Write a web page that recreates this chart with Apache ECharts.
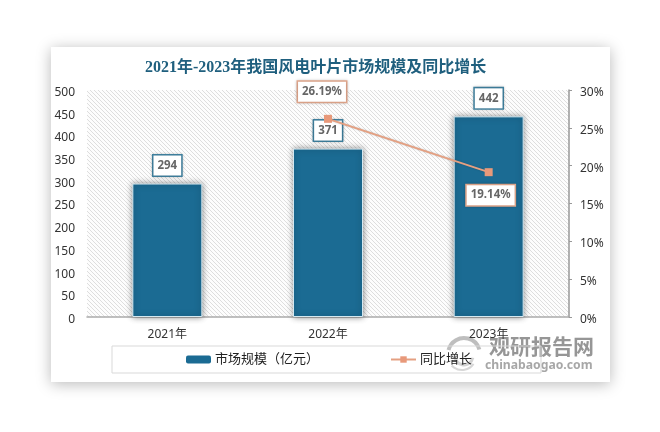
<!DOCTYPE html>
<html>
<head>
<meta charset="utf-8">
<style>html,body{margin:0;padding:0;background:#fff}#main{width:660px;height:432px}</style>
<script src="https://cdn.jsdelivr.net/npm/echarts@6/dist/echarts.min.js"></script>
</head>
<body>
<div id="main"></div>
<script>
var categories = ["2021年", "2022年", "2023年"];
var marketSize = [294, 371, 442];
var growth = [null, 26.19, 19.14];
var barName = "市场规模（亿元）";
var lineName = "同比增长";
var titleText = "2021年-2023年我国风电叶片市场规模及同比增长";

var labelFont = '"Noto Sans", "Noto Sans CJK SC", sans-serif';

// 斜线底纹
function hatch() {
  var c = document.createElement("canvas");
  c.width = 4;
  c.height = 4;
  var ctx = c.getContext("2d");
  ctx.fillStyle = "#fdfdfd";
  ctx.fillRect(0, 0, 4, 4);
  ctx.strokeStyle = "#dedede";
  ctx.lineWidth = 1;
  ctx.beginPath();
  ctx.moveTo(-1, -1);
  ctx.lineTo(5, 5);
  ctx.moveTo(-1, 3);
  ctx.lineTo(1, 5);
  ctx.moveTo(3, -1);
  ctx.lineTo(5, 1);
  ctx.stroke();
  return c;
}

var chart = echarts.init(document.getElementById("main"));
chart.setOption({
  animation: false,
  backgroundColor: "#fff",
  title: {
    text: titleText,
    left: 145,
    top: 60,
    padding: 0,
    textStyle: {
      fontFamily: '"Liberation Serif", "Noto Sans CJK SC", serif',
      fontSize: 16,
      fontWeight: "bold",
      color: "#1f5f7e"
    }
  },
  grid: {
    left: 87,
    right: 91,
    top: 90,
    bottom: 115,
    show: true,
    borderWidth: 0,
    backgroundColor: { image: hatch(), repeat: "repeat" }
  },
  legend: {
    left: 112,
    top: 346,
    padding: [7, 69, 7, 74],
    itemWidth: 25,
    itemHeight: 8,
    itemGap: 71,
    borderColor: "#d9d9d9",
    borderWidth: 1,
    textStyle: { fontFamily: labelFont, fontSize: 13, color: "#222", padding: [0, 0, 0, -1] },
    data: [
      { name: barName, itemStyle: { borderWidth: 0, shadowBlur: 0 } },
      { name: lineName }
    ]
  },
  xAxis: {
    type: "category",
    data: categories,
    axisTick: { show: false },
    axisLine: { lineStyle: { color: "#aaa", width: 1.5 } },
    axisLabel: { margin: 10, color: "#333", fontSize: 12, fontFamily: labelFont, padding: [2, 0, 0, 0] }
  },
  yAxis: [
    {
      type: "value",
      min: 0,
      max: 500,
      interval: 50,
      splitLine: { show: false },
      axisLine: { show: false },
      axisTick: { show: false },
      axisLabel: { margin: 12, color: "#333", fontSize: 12, fontFamily: labelFont, verticalAlign: "top", lineHeight: 5 }
    },
    {
      type: "value",
      min: 0,
      max: 30,
      interval: 5,
      splitLine: { show: false },
      axisLine: { show: true, lineStyle: { color: "#999", width: 1.5 } },
      axisTick: { show: true, length: 3, lineStyle: { color: "#999" } },
      axisLabel: { margin: 11, color: "#333", fontSize: 12, fontFamily: labelFont, verticalAlign: "top", lineHeight: 5, formatter: "{value}%" }
    }
  ],
  series: [
    {
      name: barName,
      type: "bar",
      data: marketSize,
      barWidth: 70,
      itemStyle: {
        color: "#1b6b93",
        borderColor: "#d5e8f0",
        borderWidth: 1,
        shadowBlur: 6,
        shadowColor: "rgba(0,0,0,0.45)"
      },
      label: {
        show: true,
        position: "top",
        distance: 8,
        fontFamily: labelFont,
        fontSize: 11.5,
        lineHeight: 12,
        fontWeight: "bold",
        color: "#666",
        backgroundColor: "#fff",
        borderColor: "#3f819f",
        borderWidth: 1.5,
        padding: [4, 4],
        shadowBlur: 3,
        shadowColor: "rgba(0,0,0,0.2)"
      }
    },
    {
      name: lineName,
      type: "line",
      yAxisIndex: 1,
      connectNulls: false,
      data: growth.map(function (v, i) {
        return {
          value: v,
          label: i === 1
            ? { position: "top", distance: 13, offset: [-6, 0] }
            : { position: "bottom", distance: 9, offset: [2, 0] }
        };
      }),
      symbol: "rect",
      symbolSize: 8,
      lineStyle: { color: "#e4a082", width: 2, shadowBlur: 2, shadowColor: "rgba(0,0,0,0.2)" },
      itemStyle: { color: "#e8997a" },
      label: {
        show: true,
        fontFamily: labelFont,
        fontSize: 11.5,
        lineHeight: 12,
        fontWeight: "bold",
        color: "#666",
        backgroundColor: "#fff",
        borderColor: "#e4a98e",
        borderWidth: 1.5,
        padding: [4, 4],
        shadowBlur: 3,
        shadowColor: "rgba(0,0,0,0.2)",
        formatter: function (p) { return p.value.toFixed(2) + "%"; }
      }
    }
  ],
  graphic: [
    // 卡片底
    {
      type: "rect",
      z: -1,
      silent: true,
      shape: { x: 51, y: 47, width: 559, height: 335 },
      style: { fill: "#fff", shadowBlur: 14, shadowColor: "rgba(0,0,0,0.28)", shadowOffsetX: 0, shadowOffsetY: 2 }
    },
    // 水印
    {
      type: "group",
      z: 100,
      silent: true,
      children: [
        { type: "arc", shape: { cx: 464, cy: 354, r: 16, startAngle: 3.4, endAngle: 6.0 }, style: { fill: null, stroke: "rgba(110,110,110,0.45)", lineWidth: 4 } },
        { type: "arc", shape: { cx: 464, cy: 356, r: 9, startAngle: 0.2, endAngle: 3.2 }, style: { fill: null, stroke: "rgba(110,110,110,0.3)", lineWidth: 3 } },
        { type: "arc", shape: { cx: 462, cy: 356, r: 14, startAngle: 0.6, endAngle: 2.4 }, style: { fill: null, stroke: "rgba(110,110,110,0.28)", lineWidth: 2 } },
        { type: "text", x: 489, y: 336, style: { text: "观研报告网", fontFamily: '"Noto Sans CJK SC", sans-serif', fontWeight: "bold", fontSize: 21, fill: "rgba(120,120,120,0.78)" } },
        { type: "text", x: 485, y: 359, style: { text: "chinabaogao.com", fontFamily: labelFont, fontWeight: "bold", fontSize: 12.2, fill: "rgba(130,130,130,0.7)" } }
      ]
    }
  ]
});
</script>
</body>
</html>
